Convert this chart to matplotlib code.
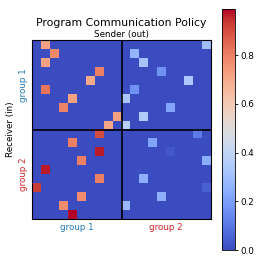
import numpy as np
import matplotlib
matplotlib.use("Agg")
import matplotlib.pyplot as plt

n_agents = 20
group_size = 10
group_labels = ["group 1", "group 2"]
group_colors = ["tab:blue", "tab:red"]
background = 0.0

# non-background cells of the policy matrix: receiver row, sender column, weight
rows = [0, 1, 2, 3, 4, 5, 6, 7, 8, 9,
        0, 1, 2, 3, 4, 5, 6, 7, 8, 9,
        10, 11, 12, 13, 14, 15, 16, 17, 18, 19,
        10, 11, 12, 13, 15, 16, 17, 18]
cols = [1, 2, 1, 7, 6, 1, 4, 3, 9, 8,
        19, 11, 12, 14, 17, 11, 10, 15, 12, 10,
        7, 4, 7, 5, 1, 7, 0, 5, 3, 4,
        18, 13, 15, 19, 12, 19, 14, 10]
vals = [0.72, 0.78, 0.72, 0.80, 0.70, 0.82, 0.72, 0.79, 0.72, 0.71,
        0.30, 0.27, 0.32, 0.17, 0.34, 0.17, 0.33, 0.22, 0.35, 0.37,
        0.90, 0.80, 0.97, 0.80, 0.97, 0.80, 0.93, 0.77, 0.77, 0.99,
        0.11, 0.22, 0.03, 0.24, 0.25, 0.05, 0.25, 0.28]

policy = np.full((n_agents, n_agents), background)
policy[rows, cols] = vals

fig = plt.figure(figsize=(2.66, 2.66), dpi=100)
ax = fig.add_axes([32 / 266, 47 / 266, 179 / 266, 179 / 266])
cax = fig.add_axes([222 / 266, 16 / 266, 13 / 266, 241 / 266])

im = ax.imshow(policy, cmap="coolwarm", aspect="auto")
ax.axhline(group_size - 0.5, color="black", lw=1.2)
ax.axvline(group_size - 0.5, color="black", lw=1.2)

centers = [group_size / 2 - 0.5, group_size + group_size / 2 - 0.5]
ax.set_xticks(centers)
ax.set_xticklabels(group_labels, fontsize=6.3)
ax.set_yticks(centers)
ax.set_yticklabels(group_labels, fontsize=6.3, rotation=90, va="center")
for lbl, c in zip(ax.get_xticklabels(), group_colors):
    lbl.set_color(c)
for lbl, c in zip(ax.get_yticklabels(), group_colors):
    lbl.set_color(c)
ax.tick_params(length=0, pad=3)

ax.xaxis.set_label_position("top")
ax.set_xlabel("Sender (out)", fontsize=6.3, labelpad=2)
ax.set_ylabel("Receiver (in)", fontsize=6.3, labelpad=3)
ax.set_title("Program Communication Policy", fontsize=7.8, pad=10)

cb = fig.colorbar(im, cax=cax)
cb.set_ticks([0.0, 0.2, 0.4, 0.6, 0.8])
cb.ax.tick_params(labelsize=6.3, length=2.5, width=0.6, pad=1.5)
cb.outline.set_linewidth(0.6)

fig.savefig("out.png", dpi=100)
